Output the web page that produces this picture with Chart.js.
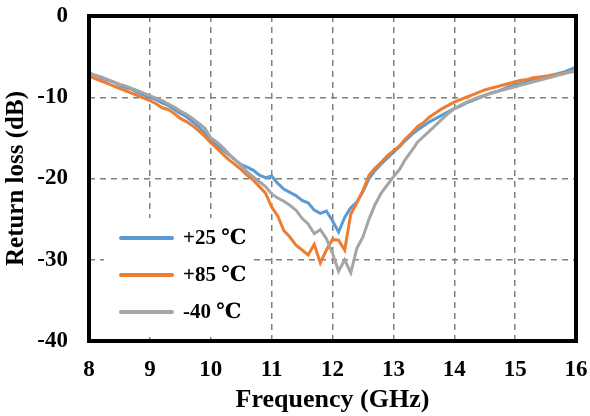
<!DOCTYPE html>
<html>
<head>
<meta charset="utf-8">
<script src="https://cdn.jsdelivr.net/npm/chart.js@4.4.1/dist/chart.umd.min.js"></script>
<style>
  html, body { margin: 0; padding: 0; background: #fff; }
  #wrap { width: 590px; height: 416px; }
</style>
</head>
<body>
<div id="wrap"><canvas id="rlChart" width="590" height="416"></canvas></div>
<script>
(() => {
  'use strict'

  // Frequency axis, GHz (0.1 GHz step)
  const freqs = [
    8.0, 8.1, 8.2, 8.3, 8.4, 8.5, 8.6, 8.7, 8.8, 8.9,
    9.0, 9.1, 9.2, 9.3, 9.4, 9.5, 9.6, 9.7, 9.8, 9.9,
    10.0, 10.1, 10.2, 10.3, 10.4, 10.5, 10.6, 10.7, 10.8, 10.9,
    11.0, 11.1, 11.2, 11.3, 11.4, 11.5, 11.6, 11.7, 11.8, 11.9,
    12.0, 12.1, 12.2, 12.3, 12.4, 12.5, 12.6, 12.7, 12.8, 12.9,
    13.0, 13.1, 13.2, 13.3, 13.4, 13.5, 13.6, 13.7, 13.8, 13.9,
    14.0, 14.1, 14.2, 14.3, 14.4, 14.5, 14.6, 14.7, 14.8, 14.9,
    15.0, 15.1, 15.2, 15.3, 15.4, 15.5, 15.6, 15.7, 15.8, 15.9,
    16.0
  ];

  // Return loss, dB
  const rl25 = [
    -7.0, -7.3, -7.6, -7.9, -8.1, -8.5, -8.8, -9.0, -9.4, -9.7,
    -10.0, -10.3, -10.7, -11.0, -11.5, -12.0, -12.4, -13.0, -13.6, -14.4,
    -15.3, -15.9, -16.5, -17.1, -17.7, -18.3, -18.6, -19.0, -19.6, -19.9,
    -19.7, -20.6, -21.3, -21.7, -22.1, -22.7, -23.0, -23.9, -24.3, -24.0,
    -25.2, -26.6, -24.8, -23.6, -22.9, -21.6, -20.0, -19.0, -18.2, -17.5,
    -16.8, -16.1, -15.3, -14.6, -14.0, -13.5, -13.0, -12.6, -12.2, -11.8,
    -11.4, -11.1, -10.7, -10.4, -10.1, -9.8, -9.5, -9.3, -9.0, -8.7,
    -8.5, -8.3, -8.1, -7.9, -7.7, -7.5, -7.3, -7.1, -6.9, -6.6,
    -6.3
  ];
  const rl85 = [
    -7.4, -7.7, -8.0, -8.3, -8.6, -8.9, -9.2, -9.5, -9.8, -10.1,
    -10.4, -10.8, -11.3, -11.5, -12.0, -12.6, -13.0, -13.5, -14.1, -14.8,
    -15.6, -16.3, -17.0, -17.7, -18.3, -18.9, -19.6, -20.2, -21.0, -21.8,
    -23.5, -24.6, -26.4, -27.2, -28.2, -28.8, -29.4, -28.1, -30.4, -28.8,
    -27.5, -27.6, -28.8, -24.4, -23.0, -21.5, -19.6, -18.7, -18.0, -17.2,
    -16.6, -16.0, -15.1, -14.4, -13.6, -13.1, -12.4, -11.9, -11.4, -11.0,
    -10.6, -10.3, -10.0, -9.7, -9.4, -9.1, -8.9, -8.7, -8.5, -8.3,
    -8.1, -7.9, -7.8, -7.6, -7.5, -7.4, -7.3, -7.2, -7.0, -6.9,
    -6.8
  ];
  const rlm40 = [
    -7.0, -7.3, -7.5, -7.8, -8.1, -8.4, -8.6, -8.9, -9.2, -9.5,
    -9.8, -10.1, -10.4, -10.8, -11.2, -11.7, -12.1, -12.6, -13.2, -13.8,
    -15.0, -15.5, -16.2, -17.0, -17.7, -18.4, -19.2, -19.8, -20.4, -21.0,
    -21.9, -22.4, -22.8, -23.3, -23.9, -24.9, -25.6, -26.8, -26.3, -27.4,
    -29.2, -31.4, -30.0, -31.6, -28.6, -27.2, -25.0, -23.2, -21.8, -20.8,
    -19.8, -18.9, -17.6, -16.6, -15.5, -14.8, -14.1, -13.4, -12.7, -12.0,
    -11.4, -11.0, -10.6, -10.3, -10.0, -9.75, -9.5, -9.3, -9.1, -8.9,
    -8.7, -8.5, -8.3, -8.1, -7.9, -7.7, -7.5, -7.3, -7.1, -6.9,
    -6.7
  ];

  const seriesNames = ['+25 \u2103', '+85 \u2103', '-40 \u2103'];
  const xTicks = [8, 9, 10, 11, 12, 13, 14, 15, 16];
  const yTicks = [0, -10, -20, -30, -40];

  const serif = '"Times New Roman", "Liberation Serif", "DejaVu Serif", serif';
  const toXY = (ys) => ys.map((y, i) => ({ x: freqs[i], y }));

  // thick black frame round the plot area
  const framePlugin = {
    id: 'frame',
    afterDatasetsDraw(chart) {
      const { ctx, chartArea: a } = chart;
      ctx.save();
      ctx.strokeStyle = '#000';
      ctx.lineWidth = 4;
      ctx.strokeRect(a.left, a.top, a.right - a.left, a.bottom - a.top);
      ctx.restore();
    }
  };

  // legend boxed inside the plot, lower left
  const insideLegend = {
    id: 'insideLegend',
    afterDraw(chart) {
      const { ctx, chartArea: a } = chart;
      ctx.save();
      ctx.fillStyle = '#fff';
      ctx.fillRect(a.left + 15, a.bottom - 123, 150, 119);
      ctx.font = 'bold 21px ' + serif;
      ctx.textBaseline = 'middle';
      chart.data.datasets.forEach((ds, i) => {
        const y = 238 + i * 37;
        ctx.strokeStyle = ds.borderColor;
        ctx.lineWidth = 4;
        ctx.lineCap = 'round';
        ctx.beginPath();
        ctx.moveTo(121, y);
        ctx.lineTo(172, y);
        ctx.stroke();
        ctx.fillStyle = '#000';
        ctx.fillText(ds.label, 183, y + 1);
      });
      ctx.restore();
    }
  };

  const mkSet = (label, ys, color, order) => ({
    label,
    data: toXY(ys),
    borderColor: color,
    backgroundColor: color,
    borderWidth: 3,
    pointRadius: 0,
    tension: 0,
    order
  });

  const config = {
    type: 'line',
    data: {
      datasets: [
        mkSet(seriesNames[0], rl25, '#5B9BD5', 3),
        mkSet(seriesNames[1], rl85, '#ED7D31', 2),
        mkSet(seriesNames[2], rlm40, '#A5A5A5', 1)
      ]
    },
    options: {
      responsive: false,
      animation: false,
      layout: { autoPadding: false, padding: { top: 16, right: 14, left: 0, bottom: 0 } },
      plugins: {
        legend: { display: false },
        tooltip: { enabled: false }
      },
      scales: {
        x: {
          type: 'linear',
          min: 8,
          max: 16,
          afterBuildTicks: (s) => { s.ticks = xTicks.map(v => ({ value: v })); },
          afterFit: (s) => { s.height = 75; s.paddingLeft = 0; s.paddingRight = 0; },
          grid: { color: '#808080', lineWidth: 1.5, drawTicks: false },
          border: { display: false, dash: [6, 5] },
          ticks: { color: '#000', padding: 15, font: { family: serif, size: 23, weight: 'bold' } },
          title: {
            display: true,
            text: 'Frequency (GHz)',
            color: '#000',
            padding: { top: 0, bottom: 0 },
            font: { family: serif, size: 26, weight: 'bold' }
          }
        },
        y: {
          min: -40,
          max: 0,
          afterBuildTicks: (s) => { s.ticks = yTicks.map(v => ({ value: v })); },
          afterFit: (s) => { s.width = 89; s.paddingTop = 0; s.paddingBottom = 0; },
          grid: { color: '#808080', lineWidth: 1.5, drawTicks: false },
          border: { display: false, dash: [6, 5] },
          ticks: { color: '#000', padding: 21, font: { family: serif, size: 23, weight: 'bold' } },
          title: {
            display: true,
            text: 'Return loss (dB)',
            color: '#000',
            padding: { top: 2, bottom: 0 },
            font: { family: serif, size: 25, weight: 'bold' }
          }
        }
      }
    },
    plugins: [framePlugin, insideLegend]
  };

  new Chart(document.getElementById('rlChart'), config);
})()
</script>
</body>
</html>
